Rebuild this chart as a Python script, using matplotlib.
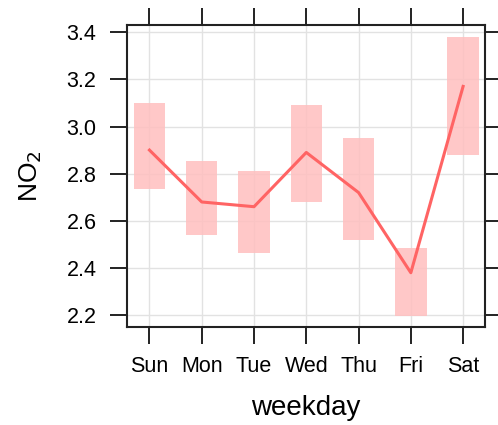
import matplotlib

matplotlib.use('agg')
import numpy as np
import matplotlib.pyplot as plt

days = ['Sun', 'Mon', 'Tue', 'Wed', 'Thu', 'Fri', 'Sat']
mean_no2 = [2.90, 2.68, 2.66, 2.89, 2.72, 2.38, 3.17]
lower_ci = [2.735, 2.54, 2.465, 2.68, 2.52, 2.195, 2.88]
upper_ci = [3.10, 2.855, 2.81, 3.09, 2.95, 2.485, 3.38]
y_ticks = [2.2, 2.4, 2.6, 2.8, 3.0, 3.2, 3.4]

plt.rcParams['font.family'] = ['Liberation Sans', 'DejaVu Sans']

fig = plt.figure(figsize=(4.98, 4.25), dpi=100)
ax = fig.add_axes([0.255, 0.2306, 0.719, 0.7104])

x = np.arange(len(days))

ax.bar(x, np.array(upper_ci) - np.array(lower_ci), bottom=lower_ci, width=0.6,
       color='#FFBFBF', alpha=0.85, linewidth=0, zorder=2)
ax.plot(x, mean_no2, color='#FF6464', linewidth=2.2, zorder=3)

ax.set_xlim(-0.43, 6.42)
ax.set_ylim(2.15, 3.43)
ax.set_xticks(x)
ax.set_xticklabels(days)
ax.set_yticks(y_ticks)
ax.set_yticklabels([f'{v:.1f}' for v in y_ticks])

ax.grid(True, color='#E2E2E2', linewidth=1)
ax.set_axisbelow(True)

ax.tick_params(axis='both', direction='out', length=12, width=1.4, labelsize=15.5,
               color='#222222', pad=10)
ax.tick_params(axis='x', top=True, pad=9)
ax.tick_params(axis='y', right=True, labelright=False)

for s in ax.spines.values():
    s.set_linewidth(1.5)
    s.set_color('#222222')

ax.set_xlabel('weekday', fontsize=20, labelpad=13)
ax.set_ylabel('NO$_2$', fontsize=19, labelpad=16)

fig.savefig('out.png', dpi=100)
